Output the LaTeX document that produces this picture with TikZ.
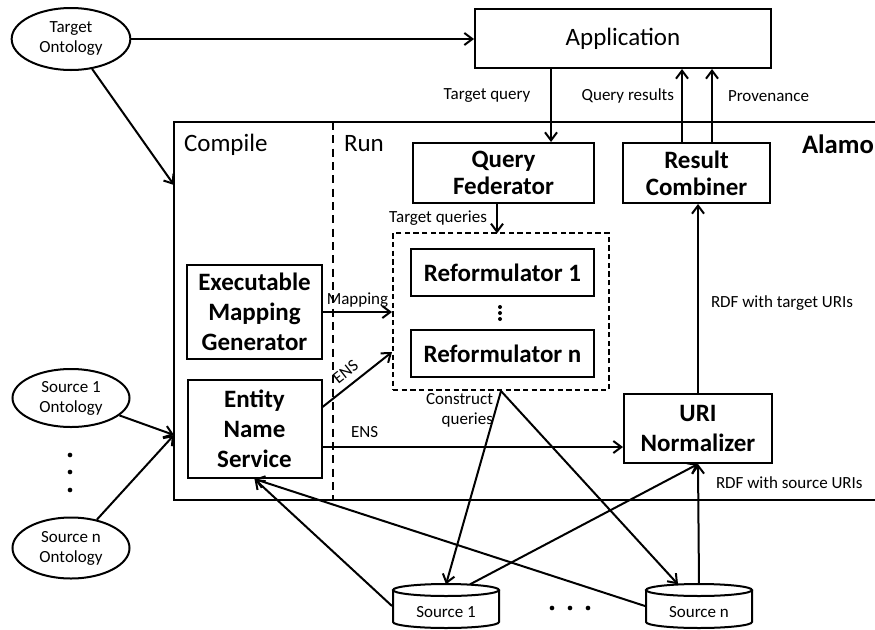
\documentclass[tikz,border=0pt]{standalone}
\usepackage{fontspec}
\setmainfont{Carlito}
\usetikzlibrary{arrows.meta,shapes.geometric,calc}
\begin{document}
\begin{tikzpicture}[x=0.75pt,y=-0.75pt,
  line width=1.5pt,
  arr/.style={-{Straight Barb[length=6pt,width=9pt]}},
  bigf/.style={font=\fontsize{18.75pt}{22.5pt}\selectfont},
  bigb/.style={font=\fontsize{18.75pt}{22.5pt}\selectfont\bfseries},
  small/.style={font=\fontsize{12.75pt}{15pt}\selectfont},
  box/.style={draw, rectangle, inner sep=0pt, align=center, bigb},
  plainbox/.style={draw, rectangle, inner sep=0pt, align=center, bigf},
  ont/.style={draw, ellipse, inner sep=0pt, align=center, small},
  lbl/.style={small, inner sep=0pt},
  dot/.style={fill, circle, inner sep=0pt, minimum size=3.5pt},
]
\useasboundingbox (0,0) rectangle (875,629);
\clip (0,0) rectangle (875,629);
\fill[white] (0,0) rectangle (875,629);

% Alamo frame
\draw (174,122) rectangle (900,500);
\draw[dash pattern=on 6pt off 4pt] (333,122) -- (333,500);
\node[bigf, anchor=base west, inner sep=0pt] (comp) at (183,151) {Compile};
\node[bigf, anchor=base west, inner sep=0pt] (run) at (343,151) {Run};
\node[font=\fontsize{20pt}{24pt}\selectfont\bfseries, anchor=base west, inner sep=0pt] (alamo) at (801,153) {Alamo};

% ontologies
\node[ont, minimum width=89pt, minimum height=46.5pt] (to) at (71,39) {Target\\Ontology};
\node[ont, minimum width=87.75pt, minimum height=43.5pt] (s1o) at (71,398) {Source 1\\Ontology};
\node[ont, minimum width=87.75pt, minimum height=45.75pt] (sno) at (71,548) {Source n\\Ontology};
\node[dot] (od1) at (70,455) {};
\node[dot] (od2) at (70,472) {};
\node[dot] (od3) at (70,490) {};
\coordinate (ot) at (174,185);
\coordinate (os) at (174,435);

% boxes
\node[plainbox, minimum width=222pt, minimum height=44.25pt] (app) at (623,38.5) {Application};
\node[box, minimum width=135.75pt, minimum height=45pt, font=\fontsize{18.75pt}{20.5pt}\selectfont\bfseries] (qf) at (503.5,173) {Query\\Federator};
\node[box, minimum width=110.25pt, minimum height=45pt, font=\fontsize{18.75pt}{20.5pt}\selectfont\bfseries] (rc) at (696.5,173) {Result\\Combiner};
\node[draw, dash pattern=on 4pt off 2.5pt, minimum width=162pt, minimum height=117.75pt, inner sep=0pt] (dbox) at (501,311.5) {};
\node[box, minimum width=137.25pt, minimum height=35.25pt] (r1) at (502.5,272.5) {Reformulator 1};
\node[box, minimum width=137.25pt, minimum height=35.25pt] (rn) at (502.5,353.5) {Reformulator n};
\node[dot, minimum size=3pt] (rd1) at (500,307) {};
\node[dot, minimum size=3pt] (rd2) at (500,313) {};
\node[dot, minimum size=3pt] (rd3) at (500,319) {};
\node[box, minimum width=101.25pt, minimum height=70.5pt] (emg) at (254.5,312) {Executable\\Mapping\\Generator};
\node[box, minimum width=100.5pt, minimum height=73.5pt] (ens) at (254.5,429) {Entity\\Name\\Service};
\node[box, minimum width=111pt, minimum height=51.75pt] (uri) at (698,428.5) {URI\\Normalizer};

% sources (cylinders)
\node[minimum width=79.5pt, minimum height=33pt, inner sep=0pt] (s1) at (446,606) {};
\draw (446,590) ellipse [x radius=53, y radius=6];
\draw (393,590) -- (393,622) arc[start angle=180, end angle=0, x radius=53, y radius=6] -- (499,590);
\node[lbl] (s1t) at (446,612) {Source 1};
\node[minimum width=79.5pt, minimum height=33pt, inner sep=0pt] (sn) at (699,606) {};
\draw (699,590) ellipse [x radius=53, y radius=6];
\draw (646,590) -- (646,622) arc[start angle=180, end angle=0, x radius=53, y radius=6] -- (752,590);
\node[lbl] (snt) at (699,612) {Source n};
\node[dot] (bd1) at (552,608) {};
\node[dot] (bd2) at (570,608) {};
\node[dot] (bd3) at (588,608) {};

% coordinates for vertical connectors
\coordinate (xtq) at (551,0);
\coordinate (xqr) at (682,0);
\coordinate (xpv) at (712,0);
\coordinate (xtqs) at (497,0);

% connectors
\draw[arr] (to.east) -- (app.west |- to.east);
\draw[arr] (to) -- (ot);
\draw[arr] (s1o) -- (os);
\draw[arr] (sno) -- (os);
\draw[arr] (app.south -| xtq) -- (qf.north -| xtq);
\draw[arr] (rc.north -| xqr) -- (app.south -| xqr);
\draw[arr] (rc.north -| xpv) -- (app.south -| xpv);
\draw[arr] (qf.south -| xtqs) -- ([yshift=-1pt]dbox.north -| xtqs);
\draw[arr] (uri.north) -- (uri.north |- rc.south);
\draw[arr] (emg.east) -- (dbox.west |- emg.east) node[lbl, midway, above=3pt] (lmap) {Mapping};
\draw[arr] ([yshift=16.5pt]ens.east) -- ([yshift=-30.4pt]dbox.west) node[lbl, pos=0.45, sloped, above=5pt] (lens1) {ENS};
\draw[arr] ([yshift=-13.5pt]ens.east) coordinate (e2) -- (e2 -| uri.west) node[lbl, pos=0.14, above=6pt] (lens2) {ENS};
\draw[arr] (dbox.south) -- ([yshift=-1pt]s1.north);
\draw[arr] (dbox.south) -- ([xshift=-15.75pt,yshift=-1pt]sn.north);
\draw[arr] ([xshift=18pt,yshift=-1pt]s1.north) -- (uri.south);
\draw[arr] ([yshift=-1pt]sn.north) -- (uri.south);
\draw[arr] (s1.west) -- (ens.south);
\draw[arr] (sn.west) -- (ens.south);

% labels
\node[lbl] (ltq) at (487,96) {Target query};
\node[lbl, anchor=east] (lqr) at (675,96) {Query results};
\node[lbl, anchor=west] (lpv) at (727,96) {Provenance};
\node[lbl, anchor=east] (ltqs) at (488,218) {Target queries};
\node[lbl, anchor=west] (lrt) at (710,303) {RDF with target URIs};
\node[lbl, anchor=west] (lrs) at (715,483) {RDF with source URIs};
\node[lbl, align=right, anchor=east] (lcq) at (494,410) {Construct\\queries};
\end{tikzpicture}
\end{document}
